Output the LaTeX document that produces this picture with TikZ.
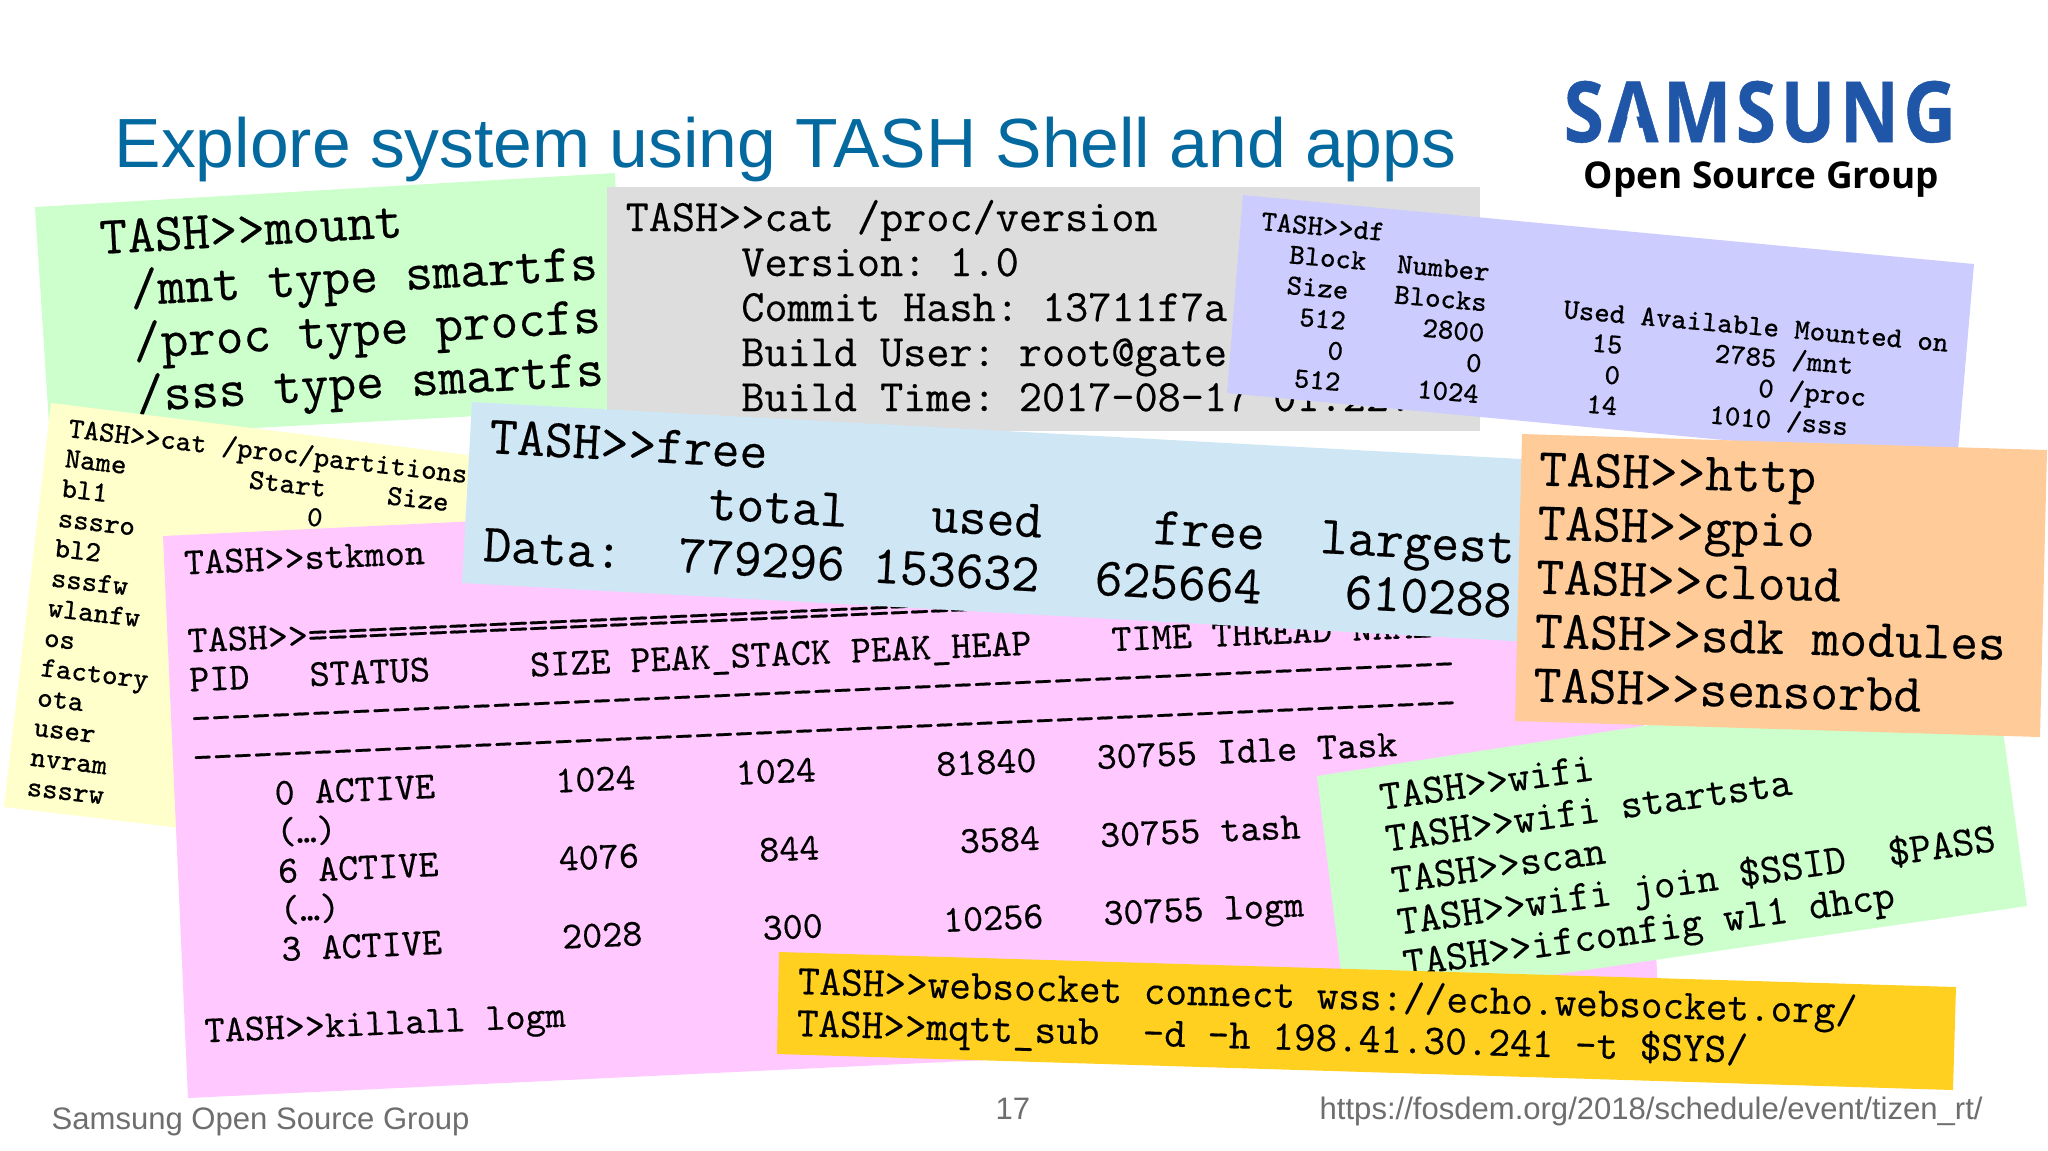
\documentclass[tikz,border=0pt]{standalone}
\usepackage{fontspec}
\setmainfont{Liberation Sans}
\newfontfamily\termfont[FakeBold=0.4]{Latin Modern Mono}
\newfontfamily\logofont{Open Sans}
\newfontfamily\wordfont[LetterSpace=6,FakeBold=0.6]{Open Sans}
\definecolor{slidetitle}{HTML}{04699F}
\definecolor{footgray}{HTML}{6E6E6E}
\definecolor{logoblue}{HTML}{1F56A8}
\definecolor{boxgreen}{HTML}{CCFFCC}
\definecolor{boxgray}{HTML}{DDDDDD}
\definecolor{boxviolet}{HTML}{CCCCFF}
\definecolor{boxyellow}{HTML}{FFFFCC}
\definecolor{boxpink}{HTML}{FFC8FF}
\definecolor{boxblue}{HTML}{CFE7F5}
\definecolor{boxorange}{HTML}{FFCC99}
\definecolor{boxgold}{HTML}{FFD020}
\newcommand{\termtext}[1]{\frenchspacing\begin{tabular}[t]{@{}l@{}}#1\end{tabular}}

\begin{document}
\begin{tikzpicture}[
    x=0.01cm, y=-0.01cm,
    % Terminal text: angle, font size, line distance
    term/.style n args={3}{anchor=base west, inner sep=0pt, rotate=#1,
                 font=\termfont\fontsize{#2}{#3}\selectfont},
    % Footer of the slide
    foot/.style={anchor=base west, inner sep=0pt, text=footgray, font=\fontsize{8.83}{12}\selectfont}
]

\useasboundingbox (0,0) rectangle (2048,1150);

% --- HEAD OF THE SLIDE ---
\node[anchor=base west, inner sep=0pt, text=slidetitle, font=\fontsize{19.8}{24}\selectfont] (title) at (114,167) {Explore system using TASH Shell and apps};
\node[anchor=base west, inner sep=0pt, text=logoblue, font=\wordfont\bfseries\fontsize{24}{30}\selectfont] (logo) at (1563,142) {\scalebox{0.863}[1]{SAMSUNG}};
\fill[white] (1620.5,144) -- (1643.5,144) -- (1632,100) -- cycle; % A of the logo has no bar
\node[anchor=base west, inner sep=0pt, font=\logofont\bfseries\fontsize{10.5}{12}\selectfont] (group) at (1583,188) {Open Source Group};

% --- MOUNT ---
\fill[boxgreen] (35,207) -- (615,173) -- (625,408) -- (50,439) -- cycle;
\node[term={3.2}{15.2}{15.08}] (mount) at (100,254) {\termtext{TASH>>mount\\
~/mnt type smartfs\\
~/proc type procfs\\
~/sss type smartfs}};

% --- PROC VERSION ---
\fill[boxgray] (607,187) rectangle (1480,431);
\node[term={0}{12.77}{12.8}] (version) at (625,231) {\termtext{TASH>>cat /proc/version\\
~~~~~Version: 1.0\\
~~~~~Commit Hash: 13711f7a\\
~~~~~Build User: root@gate\\
~~~~~Build Time: 2017-08-17 01:22:}};

% --- DF ---
\fill[boxviolet] (1243,195) -- (1974,264) -- (1957,462) -- (1227,393) -- cycle;
\node[term={-5}{8.27}{8.73}] (df) at (1260,230) {\termtext{TASH>>df\\
~~Block~~Number\\
~~Size~~~Blocks~~~~~Used Available Mounted on\\
~~~512~~~~~2800~~~~~~~15~~~~~~2785 /mnt\\
~~~~~0~~~~~~~~0~~~~~~~~0~~~~~~~~~0 /proc\\
~~~512~~~~~1024~~~~~~~14~~~~~~1010 /sss}};

% --- PARTITIONS ---
\fill[boxyellow] (51,403) -- (500,459) -- (450,860) -- (4,807) -- cycle;
\node[term={-6.6}{8.27}{8.55}] (partitions) at (67,437) {\termtext{TASH>>cat /proc/partitions\\
Name~~~~~~~~Start~~~~Size\\
bl1~~~~~~~~~~~~~0\\
sssro\\
bl2\\
sssfw\\
wlanfw\\
os\\
factory\\
ota\\
user\\
nvram\\
sssrw}};

% --- STKMON ---
\fill[boxpink] (163,536) -- (1630,466) -- (1660,1028) -- (188,1098) -- cycle;
\node[term={2.5}{10.87}{11.1}] (stkmon) at (184,574.5) {\termtext{TASH>>stkmon\\
~\\
TASH>>==================================\\
PID~~~STATUS~~~~~SIZE PEAK\_STACK PEAK\_HEAP~~~~TIME THREAD NAME\\
{-}{-}{-}{-}{-}{-}{-}{-}{-}{-}{-}{-}{-}{-}{-}{-}{-}{-}{-}{-}{-}{-}{-}{-}{-}{-}{-}{-}{-}{-}{-}{-}{-}{-}{-}{-}{-}{-}{-}{-}{-}{-}{-}{-}{-}{-}{-}{-}{-}{-}{-}{-}{-}{-}{-}{-}{-}{-}{-}{-}{-}{-}{-}\\
{-}{-}{-}{-}{-}{-}{-}{-}{-}{-}{-}{-}{-}{-}{-}{-}{-}{-}{-}{-}{-}{-}{-}{-}{-}{-}{-}{-}{-}{-}{-}{-}{-}{-}{-}{-}{-}{-}{-}{-}{-}{-}{-}{-}{-}{-}{-}{-}{-}{-}{-}{-}{-}{-}{-}{-}{-}{-}{-}{-}{-}{-}{-}\\
~~~~0 ACTIVE~~~~~~1024~~~~~1024~~~~~~81840~~~30755 Idle Task\\
~~~~(…)\\
~~~~6 ACTIVE~~~~~~4076~~~~~~844~~~~~~~3584~~~30755 tash\\
~~~~(…)\\
~~~~3 ACTIVE~~~~~~2028~~~~~~300~~~~~~10256~~~30755 logm\\
~\\
TASH>>killall logm}};

% --- FREE ---
\fill[boxblue] (472,402) -- (1540,460) -- (1530,642) -- (462,583) -- cycle;
\node[term={-3.15}{15.37}{15.37}] (free) at (488,453) {\termtext{TASH>>free\\
~~~~~~~~total~~~used~~~~free~~largest\\
Data:~~779296 153632~~625664~~~610288}};

% --- WIFI ---
\fill[boxgreen] (1317,776) -- (1995,672) -- (2027,906) -- (1345,1005) -- cycle;
\node[term={8}{11.9}{11.95}] (wifi) at (1381,810) {\termtext{TASH>>wifi\\
TASH>>wifi startsta\\
TASH>>scan\\
TASH>>wifi join \$SSID~~\$PASS\\
TASH>>ifconfig wl1 dhcp}};

% --- APPS ---
\fill[boxorange] (1522,434) -- (2047,450) -- (2040,737) -- (1515,721) -- cycle;
\node[term={-1.5}{15.3}{15.36}] (apps) at (1538,485.5) {\termtext{TASH>>http\\
TASH>>gpio\\
TASH>>cloud\\
TASH>>sdk modules\\
TASH>>sensorbd}};

% --- WEBSOCKET ---
\fill[boxgold] (779,952) -- (1956,987) -- (1953,1090) -- (777,1054) -- cycle;
\node[term={-1.6}{11.94}{11.95}] (websocket) at (797,994) {\termtext{TASH>>websocket connect wss://echo.websocket.org/\\
TASH>>mqtt\_sub~~-d -h 198.41.30.241 -t \$SYS/}};

% --- FOOTER ---
\node[foot] (company) at (51,1129) {Samsung Open Source Group};
\node[foot] (page) at (995,1119) {17};
\node[foot] (url) at (1319,1119) {https://fosdem.org/2018/schedule/event/tizen\_rt/};

\end{tikzpicture}
\end{document}
